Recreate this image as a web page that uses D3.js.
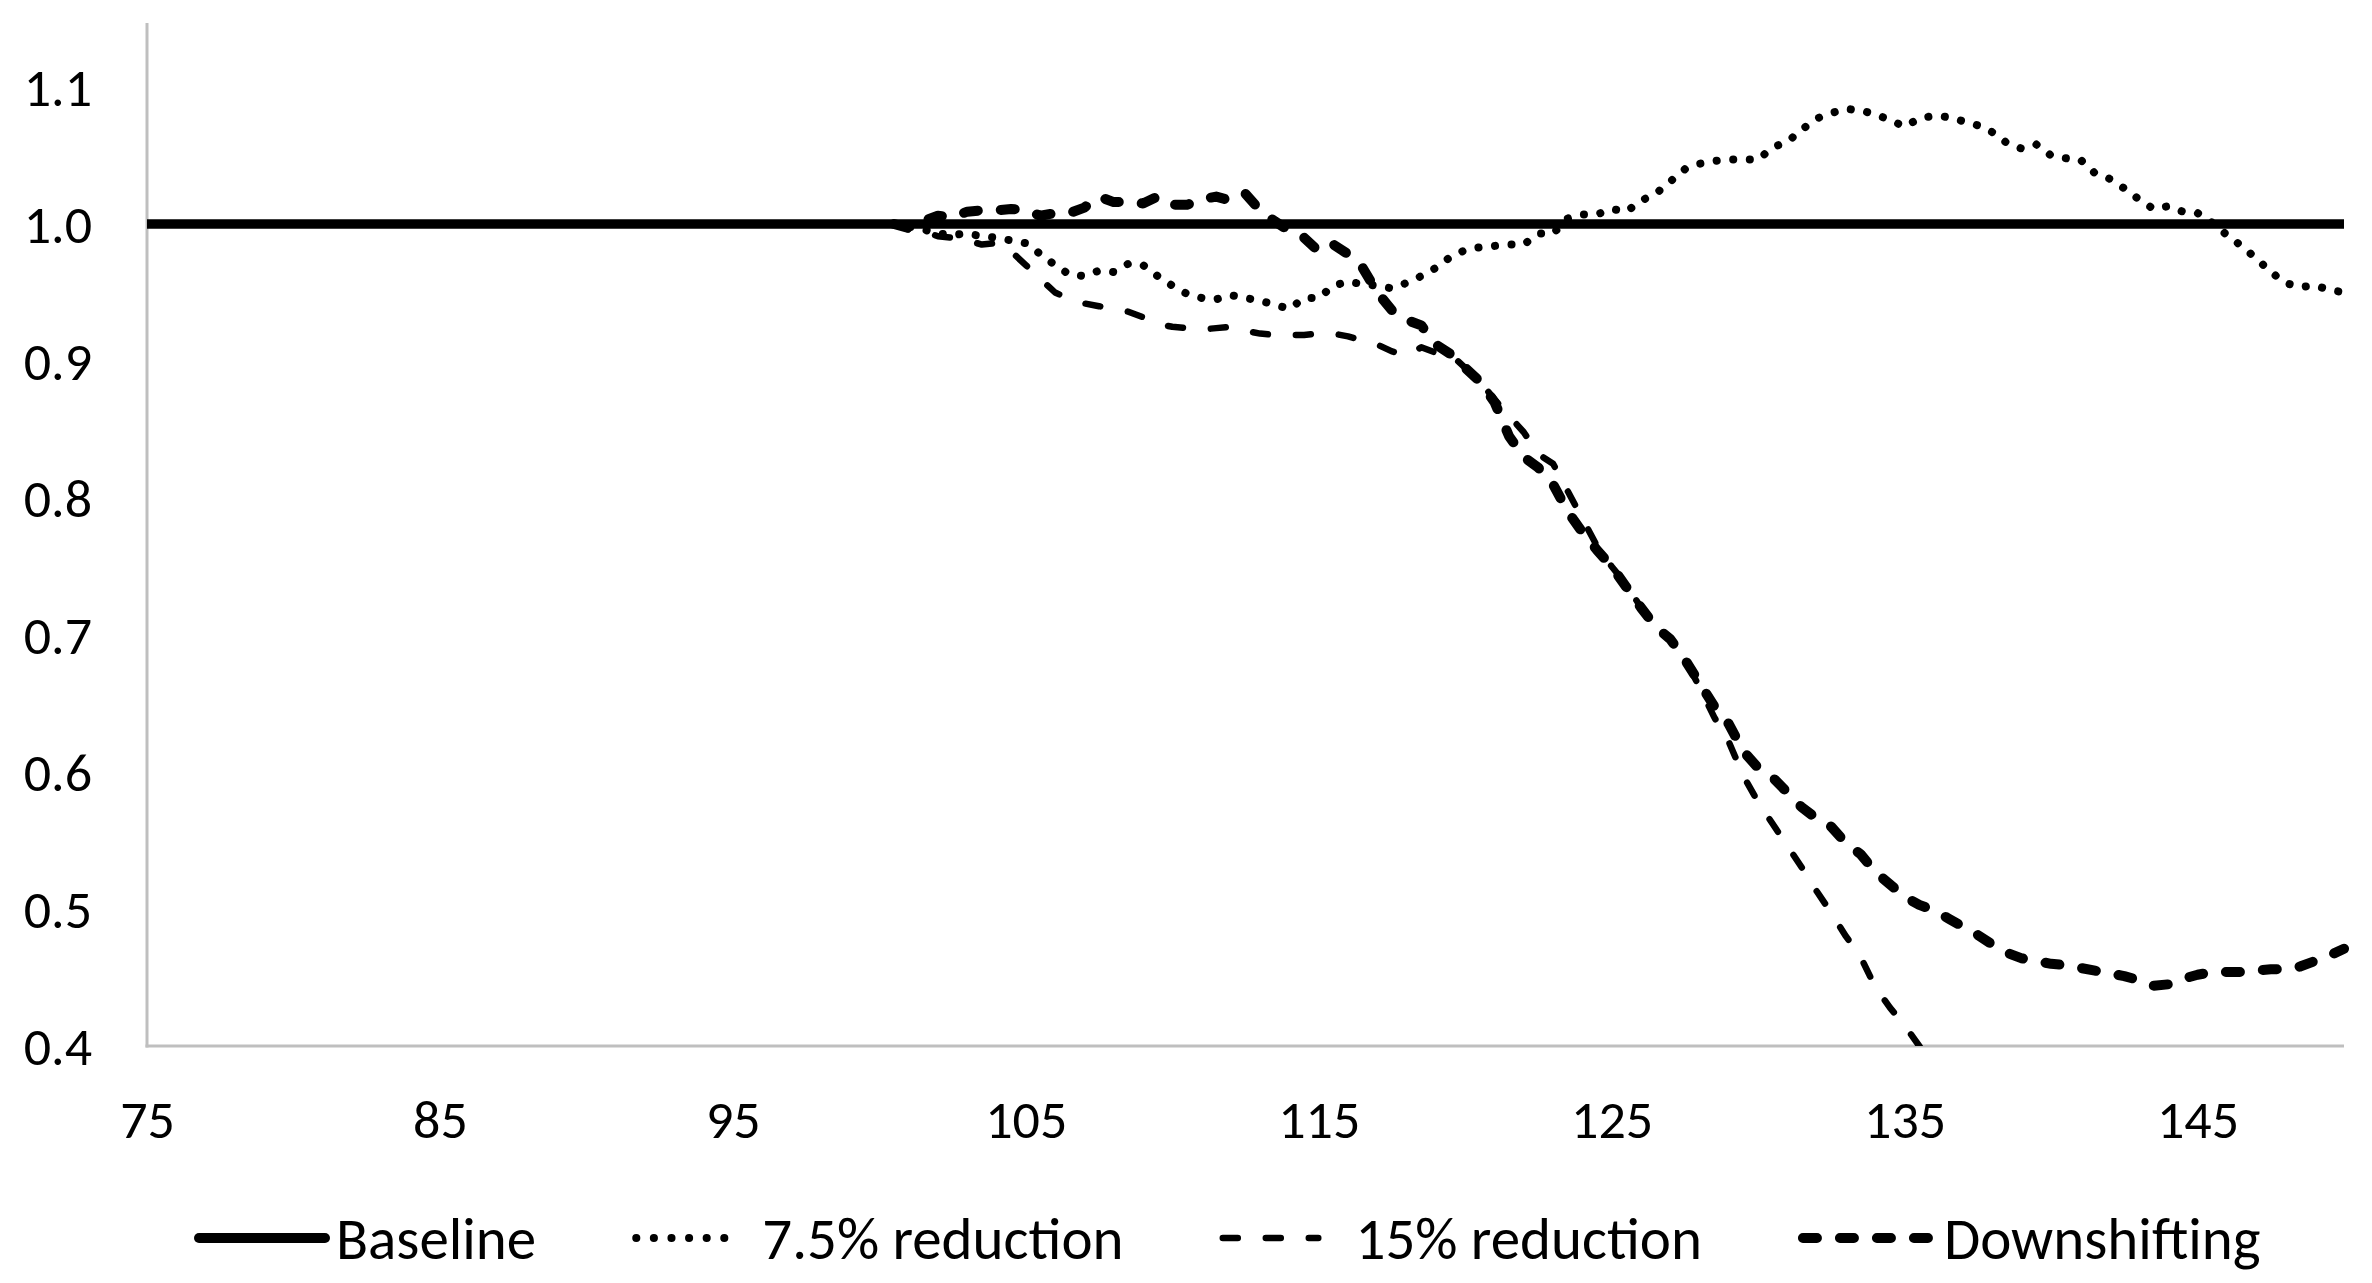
<!DOCTYPE html>
<html>
<head>
<meta charset="utf-8">
<script src="https://cdn.jsdelivr.net/npm/d3@7"></script>
<style>
  html, body { margin: 0; padding: 0; background: #ffffff; }
  svg { display: block; }
  text { font-family: Carlito, Calibri, Lato, "Open Sans", sans-serif; fill: #000; }
</style>
</head>
<body>
<svg id="chart" width="2372" height="1283"></svg>
<script>
// ---------- data ----------
const xTicks = [75, 85, 95, 105, 115, 125, 135, 145];
const yTicks = [0.4, 0.5, 0.6, 0.7, 0.8, 0.9, 1.0, 1.1];

const weeks = [
  100.5, 101, 101.5, 102, 102.5, 103, 103.5, 104, 104.5, 105,
  105.5, 106, 106.5, 107, 107.5, 108, 108.5, 109, 109.5, 110,
  110.5, 111, 111.5, 112, 112.5, 113, 113.5, 114, 114.5, 115,
  115.5, 116, 116.5, 117, 117.5, 118, 118.5, 119, 119.5, 120,
  120.5, 121, 121.5, 122, 122.5, 123, 123.5, 124, 124.5, 125,
  125.5, 126, 126.5, 127, 127.5, 128, 128.5, 129, 129.5, 130,
  130.5, 131, 131.5, 132, 132.5, 133, 133.5, 134, 134.5, 135,
  135.5, 136, 136.5, 137, 137.5, 138, 138.5, 139, 139.5, 140,
  140.5, 141, 141.5, 142, 142.5, 143, 143.5, 144, 144.5, 145,
  145.5, 146, 146.5, 147, 147.5, 148, 148.5, 149, 149.5, 150
];

const baselineX = [75, 150];
const baselineY = [1.0, 1.0];

const reduction75 = [
  1.000, 0.998, 0.996, 0.993, 0.992, 0.993, 0.991, 0.990, 0.988, 0.986,
  0.978, 0.970, 0.963, 0.962, 0.966, 0.965, 0.971, 0.970, 0.962, 0.955,
  0.949, 0.946, 0.945, 0.948, 0.946, 0.944, 0.941, 0.938, 0.946, 0.946,
  0.955, 0.958, 0.956, 0.955, 0.953, 0.957, 0.962, 0.968, 0.976, 0.981,
  0.983, 0.984, 0.985, 0.985, 0.993, 0.993, 1.004, 1.007, 1.007, 1.011,
  1.009, 1.017, 1.022, 1.031, 1.040, 1.044, 1.046, 1.047, 1.047, 1.047,
  1.056, 1.060, 1.069, 1.077, 1.081, 1.084, 1.083, 1.080, 1.076, 1.071,
  1.077, 1.079, 1.078, 1.075, 1.072, 1.067, 1.059, 1.055, 1.058, 1.050,
  1.048, 1.047, 1.037, 1.033, 1.026, 1.018, 1.011, 1.013, 1.009, 1.008,
  1.001, 0.992, 0.984, 0.975, 0.965, 0.957, 0.954, 0.955, 0.952, 0.950
];

const reduction15 = [
  1.000, 0.996, 0.995, 0.991, 0.990, 0.988, 0.985, 0.986, 0.980, 0.970,
  0.960, 0.950, 0.945, 0.942, 0.940, 0.938, 0.936, 0.932, 0.927, 0.925,
  0.924, 0.923, 0.924, 0.925, 0.922, 0.920, 0.919, 0.919, 0.919, 0.920,
  0.920, 0.918, 0.915, 0.912, 0.907, 0.904, 0.910, 0.906, 0.905, 0.895,
  0.885, 0.872, 0.860, 0.848, 0.832, 0.825, 0.805, 0.785, 0.765, 0.750,
  0.737, 0.720, 0.706, 0.697, 0.682, 0.662, 0.640, 0.622, 0.597, 0.578,
  0.562, 0.546, 0.530, 0.513, 0.497, 0.480, 0.465, 0.443, 0.428, 0.415,
  0.400, 0.385
];

const downshifting = [
  1.000, 0.997, 1.002, 1.006, 1.005, 1.009, 1.010, 1.010, 1.011, 1.010,
  1.006, 1.008, 1.008, 1.012, 1.020, 1.016, 1.016, 1.015, 1.020, 1.014,
  1.014, 1.018, 1.020, 1.017, 1.022, 1.010, 1.002, 0.995, 0.990, 0.980,
  0.985, 0.978, 0.968, 0.950, 0.937, 0.930, 0.926, 0.912, 0.905, 0.895,
  0.885, 0.870, 0.845, 0.830, 0.822, 0.810, 0.790, 0.775, 0.762, 0.750,
  0.735, 0.720, 0.706, 0.697, 0.682, 0.665, 0.648, 0.635, 0.615, 0.603,
  0.596, 0.585, 0.574, 0.566, 0.560, 0.548, 0.540, 0.527, 0.518, 0.509,
  0.503, 0.499, 0.493, 0.487, 0.481, 0.474, 0.468, 0.464, 0.462, 0.460,
  0.459, 0.457, 0.455, 0.453, 0.451, 0.448, 0.444, 0.445, 0.449, 0.452,
  0.454, 0.454, 0.454, 0.455, 0.456, 0.456, 0.458, 0.462, 0.466, 0.471
];

const seriesNames = ["Baseline", "7.5% reduction", "15% reduction", "Downshifting"];

// ---------- layout ----------
const W = 2372, H = 1283;
const plot = { left: 147, right: 2344, top: 18.5, bottom: 1046 };
const tickFont = 54;
const legendFont = 59;

const svg = d3.select("#chart");
svg.append("rect").attr("width", W).attr("height", H).attr("fill", "#fff");

const x = d3.scaleLinear().domain([75, 150]).range([plot.left, plot.right]);
const y = d3.scaleLinear().domain([0.4, 1.15]).range([plot.bottom, plot.top]);

const styles = [
  { width: 9.5, dash: null, cap: "butt" },
  { width: 8, dash: "0.1 16.5", cap: "round" },
  { width: 6.5, dash: "15 28", cap: "round" },
  { width: 10, dash: "14 23", cap: "round" }
];

// axes (no tick marks, gray lines)
const xAxis = d3.axisBottom(x).tickValues(xTicks).tickSize(0).tickPadding(0).tickFormat(d3.format("d"));
const yAxis = d3.axisLeft(y).tickValues(yTicks).tickSize(0).tickPadding(0).tickFormat(d3.format(".1f"));

const gx = svg.append("g").attr("transform", `translate(0,${plot.bottom})`).call(xAxis);
gx.select(".domain").remove();
gx.selectAll("text").attr("font-size", tickFont).attr("dy", null).attr("y", 92)
  .attr("font-family", null);

const gy = svg.append("g").attr("transform", `translate(${plot.left},0)`).call(yAxis);
gy.select(".domain").remove();
gy.selectAll("text").attr("font-size", tickFont).attr("x", -55).attr("dy", "0.35em")
  .attr("font-family", null);

svg.append("line")
  .attr("x1", plot.left).attr("x2", plot.left)
  .attr("y1", 23).attr("y2", plot.bottom + 1.5)
  .attr("stroke", "#bfbfbf").attr("stroke-width", 3);
svg.append("line")
  .attr("x1", plot.left - 1.5).attr("x2", plot.right)
  .attr("y1", plot.bottom).attr("y2", plot.bottom)
  .attr("stroke", "#bfbfbf").attr("stroke-width", 3);

// clip
svg.append("clipPath").attr("id", "plotclip")
  .append("rect").attr("x", plot.left).attr("y", 0)
  .attr("width", plot.right - plot.left + 6).attr("height", plot.bottom);

const lines = svg.append("g").attr("clip-path", "url(#plotclip)");
const lineGen = d3.line().defined(d => d[1] != null).x(d => x(d[0])).y(d => y(d[1]));

const seriesData = [
  baselineX.map((v, i) => [v, baselineY[i]]),
  weeks.map((w, i) => [w, reduction75[i]]),
  reduction15.map((v, i) => [weeks[i], v]),
  weeks.map((w, i) => [w, downshifting[i]])
];

seriesData.forEach((data, i) => {
  const s = styles[i];
  lines.append("path")
    .attr("d", lineGen(data))
    .attr("fill", "none")
    .attr("stroke", "#000")
    .attr("stroke-width", s.width)
    .attr("stroke-linecap", s.cap)
    .attr("stroke-linejoin", "round")
    .attr("stroke-dasharray", s.dash);
});

// legend
const legendY = 1238;
const sampleLens = [136, 108, 102, 136];
const textOffsets = [142, 130, 136, 146];
const itemGap = 96;
const legendStart = 194;
const leg = svg.append("g");
const items = seriesNames.map((name, i) => {
  const g = leg.append("g");
  const s = styles[i];
  const inset = s.cap === "round" ? s.width / 2 : 0;
  g.append("line")
    .attr("x1", i === 0 ? 5 : inset)
    .attr("x2", sampleLens[i] - (i === 0 ? 5 : inset))
    .attr("y1", 0).attr("y2", 0)
    .attr("stroke", "#000")
    .attr("stroke-width", i === 0 ? 10 : s.width)
    .attr("stroke-linecap", i === 0 ? "round" : s.cap)
    .attr("stroke-dasharray", i === 1 ? "0.1 17.5" : s.dash);
  const t = g.append("text")
    .attr("x", textOffsets[i]).attr("y", 0).attr("dy", "0.35em")
    .attr("font-size", legendFont).text(name);
  return { g, w: textOffsets[i] + t.node().getComputedTextLength() };
});
let cx = legendStart;
items.forEach(it => {
  it.g.attr("transform", `translate(${cx},${legendY})`);
  cx += it.w + itemGap;
});
</script>
</body>
</html>
